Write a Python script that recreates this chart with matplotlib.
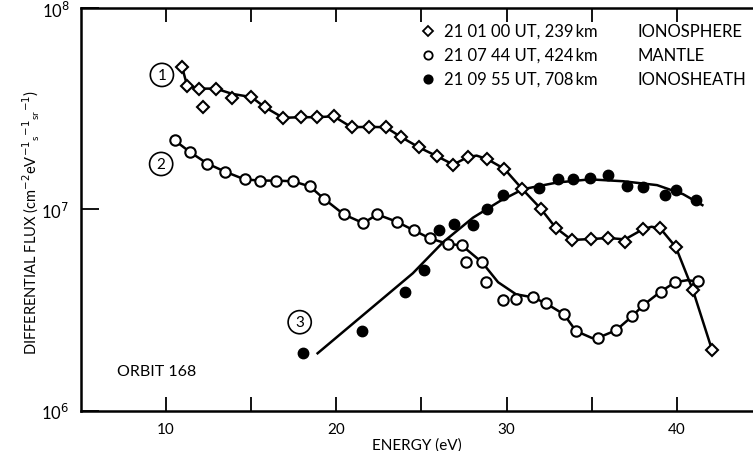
import matplotlib
matplotlib.use("Agg")
import matplotlib.pyplot as plt

plt.rcParams['font.family'] = ['Lato', 'DejaVu Sans']

# orbit 168 electron spectra
# 1: 21 01 00 UT, ionosphere (diamonds)
e_iono = [10.96, 11.25, 11.94, 12.16, 12.94, 13.89, 15.03, 15.81, 16.89, 17.93,
          18.88, 19.85, 20.90, 21.92, 22.90, 23.80, 24.87, 25.90, 26.87, 27.73,
          28.85, 29.87, 30.89, 32.00, 32.88, 33.82, 34.97, 35.97, 36.95, 37.99,
          39.01, 39.93, 40.93, 42.06]
f_iono = [5.09e7, 4.12e7, 3.98e7, 3.23e7, 3.98e7, 3.56e7, 3.61e7, 3.22e7, 2.85e7, 2.87e7,
          2.87e7, 2.90e7, 2.56e7, 2.57e7, 2.56e7, 2.29e7, 2.03e7, 1.84e7, 1.67e7, 1.82e7,
          1.78e7, 1.59e7, 1.27e7, 1.01e7, 8.11e6, 7.05e6, 7.13e6, 7.21e6, 6.89e6, 7.96e6,
          8.07e6, 6.50e6, 3.98e6, 2.00e6]

# 2: 21 07 44 UT, mantle (open circles)
e_mant = [10.53, 11.41, 12.43, 13.48, 14.62, 15.54, 16.44, 17.46, 18.46, 19.28,
          20.45, 21.59, 22.41, 23.55, 24.56, 25.50, 26.58, 27.36, 27.60, 28.57,
          28.79, 29.77, 30.55, 31.53, 32.30, 33.37, 34.07, 35.35, 36.42, 37.36,
          38.01, 39.05, 39.89, 41.22]
f_mant = [2.20e7, 1.93e7, 1.69e7, 1.54e7, 1.41e7, 1.39e7, 1.39e7, 1.38e7, 1.30e7, 1.13e7,
          9.44e6, 8.55e6, 9.44e6, 8.69e6, 7.87e6, 7.18e6, 6.73e6, 6.64e6, 5.51e6, 5.45e6,
          4.37e6, 3.55e6, 3.61e6, 3.66e6, 3.42e6, 3.01e6, 2.49e6, 2.30e6, 2.51e6, 2.94e6,
          3.34e6, 3.91e6, 4.35e6, 4.39e6]

# 3: 21 09 55 UT, ionosheath (filled circles)
e_sheath = [18.03, 21.53, 24.02, 25.15, 26.03, 26.93, 28.01, 28.83, 29.79, 31.88,
            33.04, 33.92, 34.92, 35.97, 37.05, 38.03, 39.28, 39.96, 41.12]
f_sheath = [1.93e6, 2.48e6, 3.91e6, 5.00e6, 7.87e6, 8.43e6, 8.36e6, 1.01e7, 1.18e7, 1.28e7,
            1.42e7, 1.42e7, 1.44e7, 1.48e7, 1.30e7, 1.29e7, 1.18e7, 1.25e7, 1.11e7]

# hand-drawn fit curves
ce_iono = [10.96, 11.25, 11.94, 12.94, 13.89, 15.03, 15.81, 16.89, 17.93, 18.88,
           19.85, 20.90, 21.92, 22.90, 23.80, 24.87, 25.90, 26.87, 27.73, 28.24,
           28.85, 29.87, 30.89, 32.00, 32.88, 33.82, 34.97, 35.97, 36.95, 37.99,
           38.50, 39.01, 39.93, 40.93, 42.06]
cf_iono = [5.09e7, 4.12e7, 3.98e7, 3.98e7, 3.75e7, 3.61e7, 3.22e7, 2.85e7, 2.87e7, 2.87e7,
           2.90e7, 2.56e7, 2.57e7, 2.56e7, 2.29e7, 2.03e7, 1.84e7, 1.67e7, 1.82e7, 1.85e7,
           1.78e7, 1.59e7, 1.27e7, 1.01e7, 8.11e6, 7.05e6, 7.13e6, 7.21e6, 7.10e6, 7.96e6,
           8.20e6, 8.07e6, 6.50e6, 3.98e6, 2.00e6]

ce_mant = [10.53, 11.41, 12.43, 13.48, 14.62, 15.54, 16.44, 17.46, 18.46, 19.28,
           20.45, 21.59, 22.41, 23.55, 24.56, 25.50, 26.58, 27.36, 28.57, 29.50,
           30.55, 31.53, 32.30, 33.37, 34.07, 35.00, 35.35, 36.42, 37.36, 38.01,
           39.05, 39.89, 40.60, 41.22]
cf_mant = [2.20e7, 1.93e7, 1.69e7, 1.54e7, 1.41e7, 1.39e7, 1.39e7, 1.38e7, 1.30e7, 1.13e7,
           9.44e6, 8.55e6, 9.44e6, 8.69e6, 7.87e6, 7.18e6, 6.73e6, 6.64e6, 5.45e6, 4.35e6,
           3.79e6, 3.66e6, 3.42e6, 3.01e6, 2.49e6, 2.30e6, 2.30e6, 2.51e6, 2.94e6, 3.34e6,
           3.91e6, 4.35e6, 4.45e6, 4.39e6]

ce_sheath = [18.91, 21.98, 24.50, 26.27, 28.03, 29.61, 30.96, 32.96, 34.90, 36.84,
             38.83, 40.36, 41.49]
cf_sheath = [1.93e6, 3.19e6, 4.82e6, 6.87e6, 9.10e6, 1.10e7, 1.26e7, 1.36e7, 1.41e7, 1.38e7,
             1.32e7, 1.19e7, 1.05e7]

fig = plt.figure(figsize=(7.53, 4.52), dpi=100)
ax = fig.add_axes([0.107, 0.089, 0.893, 0.891])

ax.plot(ce_iono, cf_iono, color='black', lw=1.8, zorder=2)
ax.plot(ce_mant, cf_mant, color='black', lw=1.8, zorder=2)
ax.plot(ce_sheath, cf_sheath, color='black', lw=1.8, zorder=2)

ax.plot(e_iono, f_iono, 'D', ms=6, mfc='white', mec='black', mew=1.5, ls='none', zorder=3)
ax.plot(e_mant, f_mant, 'o', ms=7.5, mfc='white', mec='black', mew=1.5, ls='none', zorder=3)
ax.plot(e_sheath, f_sheath, 'o', ms=7.5, mfc='black', mec='black', ls='none', zorder=3)

ax.set_yscale('log')
ax.set_xlim(5, 44.46)
ax.set_ylim(1e6, 1e8)

ax.set_xticks([10, 15, 20, 25, 30, 35, 40])
ax.set_xticklabels(['10', '', '20', '', '30', '', '40'], fontsize=11)
ax.set_yticks([1e6, 1e7, 1e8])
ax.set_yticklabels(['10$^{6}$', '10$^{7}$', '10$^{8}$'], fontsize=12)
ax.minorticks_off()
ax.tick_params(axis='x', direction='in', length=10, width=1.3, top=True, pad=8)
ax.tick_params(axis='y', direction='in', length=13, width=1.3, pad=8)
ax.spines['right'].set_visible(False)
for s in ['left', 'bottom', 'top']:
    ax.spines[s].set_linewidth(1.8)

ax.set_xlabel('ENERGY (eV)', fontsize=11, labelpad=1)
ax.set_ylabel(r'DIFFERENTIAL FLUX (cm$^{-2}$eV$^{-1}{}_{\mathregular{s}}{}^{-1}{}_{\mathregular{sr}}{}^{-1}$)',
              fontsize=10.5)
ax.yaxis.set_label_coords(-0.058, 0.47)

# circled curve numbers
for txt, xy in [('1', (0.215, 0.832)), ('2', (0.214, 0.635)), ('3', (0.398, 0.285))]:
    fig.text(xy[0], xy[1], txt, fontsize=11, ha='center', va='center',
             bbox=dict(boxstyle='circle,pad=0.3', fc='white', ec='black', lw=1.2))

ax.text(0.054, 0.098, 'ORBIT 168', transform=ax.transAxes, fontsize=11.5, ha='left', va='center')

# legend as text rows
rows = [('D', 'white', '21 01 00 UT, 239\u2009km', 'IONOSPHERE'),
        ('o', 'white', '21 07 44 UT, 424\u2009km', 'MANTLE'),
        ('o', 'black', '21 09 55 UT, 708\u2009km', 'IONOSHEATH')]
ys = [0.929, 0.876, 0.823]
for (mk, fc, t1, t2), yy in zip(rows, ys):
    ax.plot([0.569], [yy], mk, ms=5 if mk == 'D' else 6, mfc=fc, mec='black', mew=1.3,
            transform=fig.transFigure, clip_on=False)
    fig.text(0.589, yy, t1, fontsize=12, va='center')
    fig.text(0.846, yy, t2, fontsize=12, va='center')

fig.savefig('out.png', dpi=100)
